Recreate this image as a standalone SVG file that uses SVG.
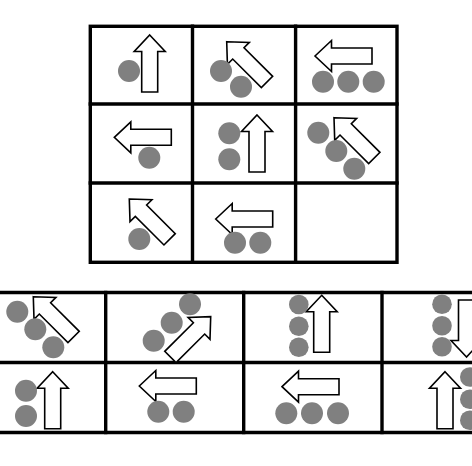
<svg xmlns="http://www.w3.org/2000/svg" xmlns:xlink="http://www.w3.org/1999/xlink" width="472" height="466" viewBox="0 0 472 466">
<style>
.grid{stroke:#000;stroke-width:3.4;fill:none;stroke-linecap:square}
.arrow{fill:#fff;stroke:#000;stroke-width:1.6;stroke-linejoin:miter}
.dot{fill:#808080}
</style>
<defs>
<path id="arr" class="arrow" d="M0,0 L15.5,16.5 L8,16.5 L8,57 L-8,57 L-8,16.5 L-15.5,16.5 Z"/>
</defs>
<rect width="472" height="466" fill="#fff"/>
<g id="grid-top">
<rect class="grid" x="90.3" y="26.3" width="306.7" height="236"/>
<line class="grid" x1="192.5" y1="26.3" x2="192.5" y2="262.3"/>
<line class="grid" x1="295.6" y1="26.3" x2="295.6" y2="262.3"/>
<line class="grid" x1="90.3" y1="104" x2="397" y2="104"/>
<line class="grid" x1="90.3" y1="183" x2="397" y2="183"/>
</g>
<g id="grid-bottom">
<line class="grid" x1="-5" y1="292.5" x2="477" y2="292.5"/>
<line class="grid" x1="-5" y1="362.5" x2="477" y2="362.5"/>
<line class="grid" x1="-5" y1="432.5" x2="477" y2="432.5"/>
<line class="grid" x1="105.7" y1="292.5" x2="105.7" y2="432.5"/>
<line class="grid" x1="243.7" y1="292.5" x2="243.7" y2="432.5"/>
<line class="grid" x1="382" y1="292.5" x2="382" y2="432.5"/>
</g>
<g id="connectors"/>
<g id="c00"><use xlink:href="#arr" transform="translate(149.7,35)"/><circle class="dot" cx="129" cy="71" r="11"/></g>
<g id="c01"><use xlink:href="#arr" transform="translate(226.7,41.7) rotate(-45)"/><circle class="dot" cx="221" cy="71" r="11"/><circle class="dot" cx="241" cy="86.7" r="11"/></g>
<g id="c02"><use xlink:href="#arr" transform="translate(315,56) rotate(-90)"/><circle class="dot" cx="323" cy="81.7" r="11"/><circle class="dot" cx="348.3" cy="81.7" r="11"/><circle class="dot" cx="373.7" cy="81.7" r="11"/></g>
<g id="c10"><use xlink:href="#arr" transform="translate(114.3,137.3) rotate(-90)"/><circle class="dot" cx="149.3" cy="157.7" r="11"/></g>
<g id="c11"><use xlink:href="#arr" transform="translate(257,115)"/><circle class="dot" cx="229.3" cy="133.3" r="11"/><circle class="dot" cx="229.3" cy="159.3" r="11"/></g>
<g id="c12"><use xlink:href="#arr" transform="translate(334,117.7) rotate(-45)"/><circle class="dot" cx="318.3" cy="132.7" r="11"/><circle class="dot" cx="336.3" cy="151" r="11"/><circle class="dot" cx="354.3" cy="168.7" r="11"/></g>
<g id="c20"><use xlink:href="#arr" transform="translate(129.3,199) rotate(-45)"/><circle class="dot" cx="139.3" cy="239" r="11"/></g>
<g id="c21"><use xlink:href="#arr" transform="translate(215.7,219) rotate(-90)"/><circle class="dot" cx="235" cy="242.7" r="11"/><circle class="dot" cx="260.3" cy="242.7" r="11"/></g>
<g id="c22"/>
<g id="b00"><use xlink:href="#arr" transform="translate(33.3,296.7) rotate(-45)"/><circle class="dot" cx="17.3" cy="311.7" r="11"/><circle class="dot" cx="35.3" cy="329.3" r="11"/><circle class="dot" cx="53.3" cy="347.3" r="11"/></g>
<g id="b01"><use xlink:href="#arr" transform="translate(210.7,316.7) rotate(45)"/><circle class="dot" cx="153.7" cy="340.7" r="11"/><circle class="dot" cx="171.7" cy="322.7" r="11"/><circle class="dot" cx="190" cy="304.3" r="11"/></g>
<g id="b02"><use xlink:href="#arr" transform="translate(321.7,295.3)"/><circle class="dot" cx="298.8" cy="304.5" r="9.8"/><circle class="dot" cx="298.8" cy="326.3" r="9.8"/><circle class="dot" cx="298.8" cy="347.2" r="9.8"/></g>
<g id="b03"><circle class="dot" cx="442" cy="304.3" r="9.8"/><circle class="dot" cx="442" cy="325.7" r="9.8"/><circle class="dot" cx="442" cy="346.7" r="9.8"/><use xlink:href="#arr" transform="translate(466.5,357) rotate(180)"/></g>
<g id="b10"><use xlink:href="#arr" transform="translate(52.7,371.7)"/><circle class="dot" cx="26" cy="390.7" r="11"/><circle class="dot" cx="26" cy="416" r="11"/></g>
<g id="b11"><use xlink:href="#arr" transform="translate(139.3,386) rotate(-90)"/><circle class="dot" cx="158.3" cy="411.7" r="11"/><circle class="dot" cx="183.7" cy="411.7" r="11"/></g>
<g id="b12"><use xlink:href="#arr" transform="translate(282,386.7) rotate(-90)"/><circle class="dot" cx="286.3" cy="413.3" r="11"/><circle class="dot" cx="312" cy="413.3" r="11"/><circle class="dot" cx="338" cy="413.3" r="11"/></g>
<g id="b13"><use xlink:href="#arr" transform="translate(445,371.7)"/><circle class="dot" cx="469.8" cy="377" r="9.8"/><circle class="dot" cx="469.8" cy="399.3" r="9.8"/><circle class="dot" cx="469.8" cy="420.3" r="9.8"/></g>
</svg>
